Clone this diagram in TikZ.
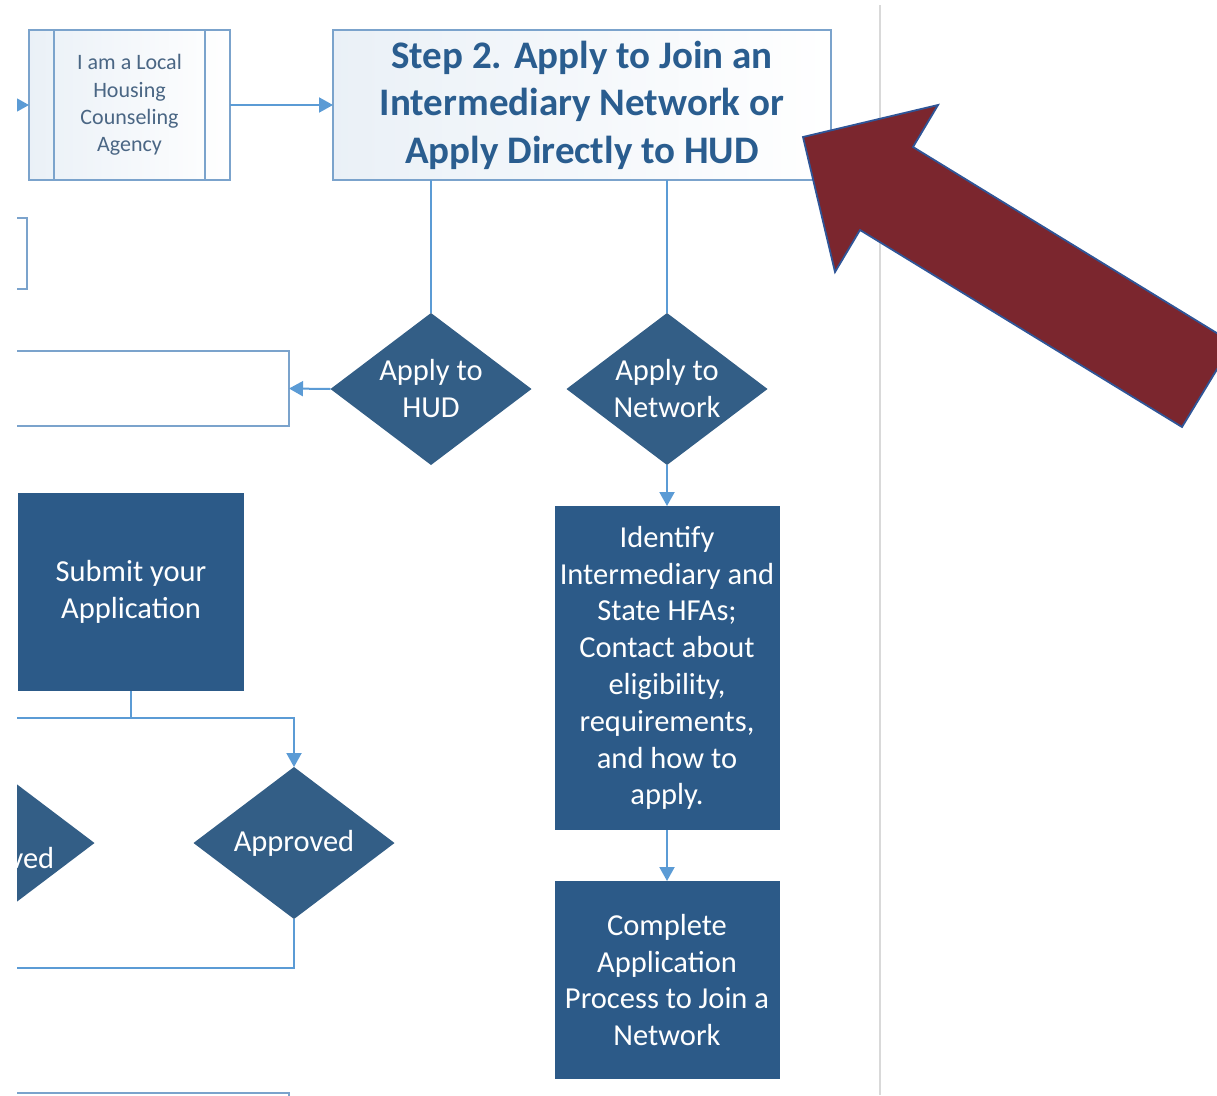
\documentclass[tikz,border=0pt]{standalone}
\usepackage{fontspec}
\setmainfont{Carlito}
\usetikzlibrary{shapes.geometric,arrows.meta}
\definecolor{flowdark}{HTML}{2C5A88}
\definecolor{flowdiam}{HTML}{335E86}
\definecolor{flowline}{HTML}{5B9BD5}
\definecolor{flowedge}{HTML}{7BA3CC}
\definecolor{titleblue}{HTML}{2A5D8F}
\definecolor{agencytext}{HTML}{4A6684}
\definecolor{pointerred}{HTML}{7B262E}
\definecolor{pointeredge}{HTML}{2F5597}
\definecolor{dividergray}{HTML}{D9D9D9}
\tikzset{
 lightbox/.style={draw=flowedge,line width=2pt,left color=flowedge!16,right color=white,align=center,inner sep=0pt,outer sep=0pt},
 openbox/.style={draw=flowedge,line width=2pt,fill=white,inner sep=0pt,outer sep=0pt},
 darkbox/.style={fill=flowdark,text=white,align=center,inner sep=0pt,outer sep=0pt,font=\fontsize{30.5}{36.8}\selectfont},
 decision/.style={diamond,fill=flowdiam,text=white,align=center,aspect=1.32,inner sep=-10pt,outer sep=0pt,minimum width=201pt,minimum height=152pt,font=\fontsize{30.5}{37}\selectfont},
 link/.style={draw=flowline,line width=2pt},
 linkarrow/.style={link,-{Triangle[length=14pt,width=15pt]}},
 pointer/.style={fill=pointerred,draw=pointeredge,line width=1.8pt,line join=miter}
}
\begin{document}
\begin{tikzpicture}[x=1pt,y=-1pt]
\useasboundingbox (0,0) rectangle (1217,1095);
\clip (17,0) rectangle (1217,1095);
\draw[dividergray,line width=1.5pt](880,5)--(880,1095);
% partly hidden boxes on the left
\node[openbox,minimum width=277pt,minimum height=71pt] (upperbox) at (-111.5,253.5) {};
\node[openbox,minimum width=539pt,minimum height=75pt] (hudbox) at (19.5,388.5) {};
\node[openbox,minimum width=539pt,minimum height=100pt] (lowerbox) at (19.5,1143) {};
% top row
\node[lightbox,minimum width=201pt,minimum height=150pt,text=agencytext,font=\fontsize{22}{27.3}\selectfont] (local) at (129.5,105) {I am a Local\\Housing\\Counseling\\Agency};
\draw[flowedge,line width=2pt]([xshift=25pt]local.north west)--([xshift=25pt]local.south west);
\draw[flowedge,line width=2pt]([xshift=-25pt]local.north east)--([xshift=-25pt]local.south east);
\node[lightbox,minimum width=498pt,minimum height=150pt,text=titleblue,font=\bfseries\fontsize{39}{47.5}\selectfont] (step2) at (582,105) {Step 2. Apply to Join an\\Intermediary Network or\\Apply Directly to HUD};
% decisions
\node[decision] (hud) at (431,389) {Apply to\\HUD};
\node[decision] (net) at (667,389) {Apply to\\Network};
\node[decision] (notok) at (-6,843) {Not\\Approved};
\node[decision] (approved) at (294,843) {Approved};
% process boxes
\node[darkbox,minimum width=226pt,minimum height=198pt] (submit) at (131,592) {Submit your\\Application};
\node[darkbox,minimum width=225pt,minimum height=324pt] (ident) at (667,668) {Identify\\Intermediary and\\State HFAs;\\Contact about\\eligibility,\\requirements,\\and how to\\apply.};
\node[darkbox,minimum width=225pt,minimum height=198pt] (complete) at (667,980) {Complete\\Application\\Process to Join a\\Network};
% connectors
\coordinate (agencyin) at (0,105);
\coordinate (busleft) at (0,718);
\coordinate (loopleft) at (0,968);
\draw[linkarrow](agencyin)--(local.west);
\draw[linkarrow](local.east)--(step2.west);
\draw[link](step2.south -| hud.north)--(hud.north);
\draw[link](step2.south -| net.north)--(net.north);
\draw[linkarrow](hud.west)--(hudbox.east);
\draw[linkarrow](net.south)--(ident.north);
\draw[linkarrow](ident.south)--(complete.north);
\draw[link](submit.south)--(submit.south |- busleft);
\draw[linkarrow](busleft)-|(approved.north);
\draw[link](approved.south)|-(loopleft);
% big pointer
\draw[pointer](803,137)--(938,105)--(913,147)--(1233,343)--(1182,427)--(860,230)--(835,272)--cycle;
\end{tikzpicture}
\end{document}
